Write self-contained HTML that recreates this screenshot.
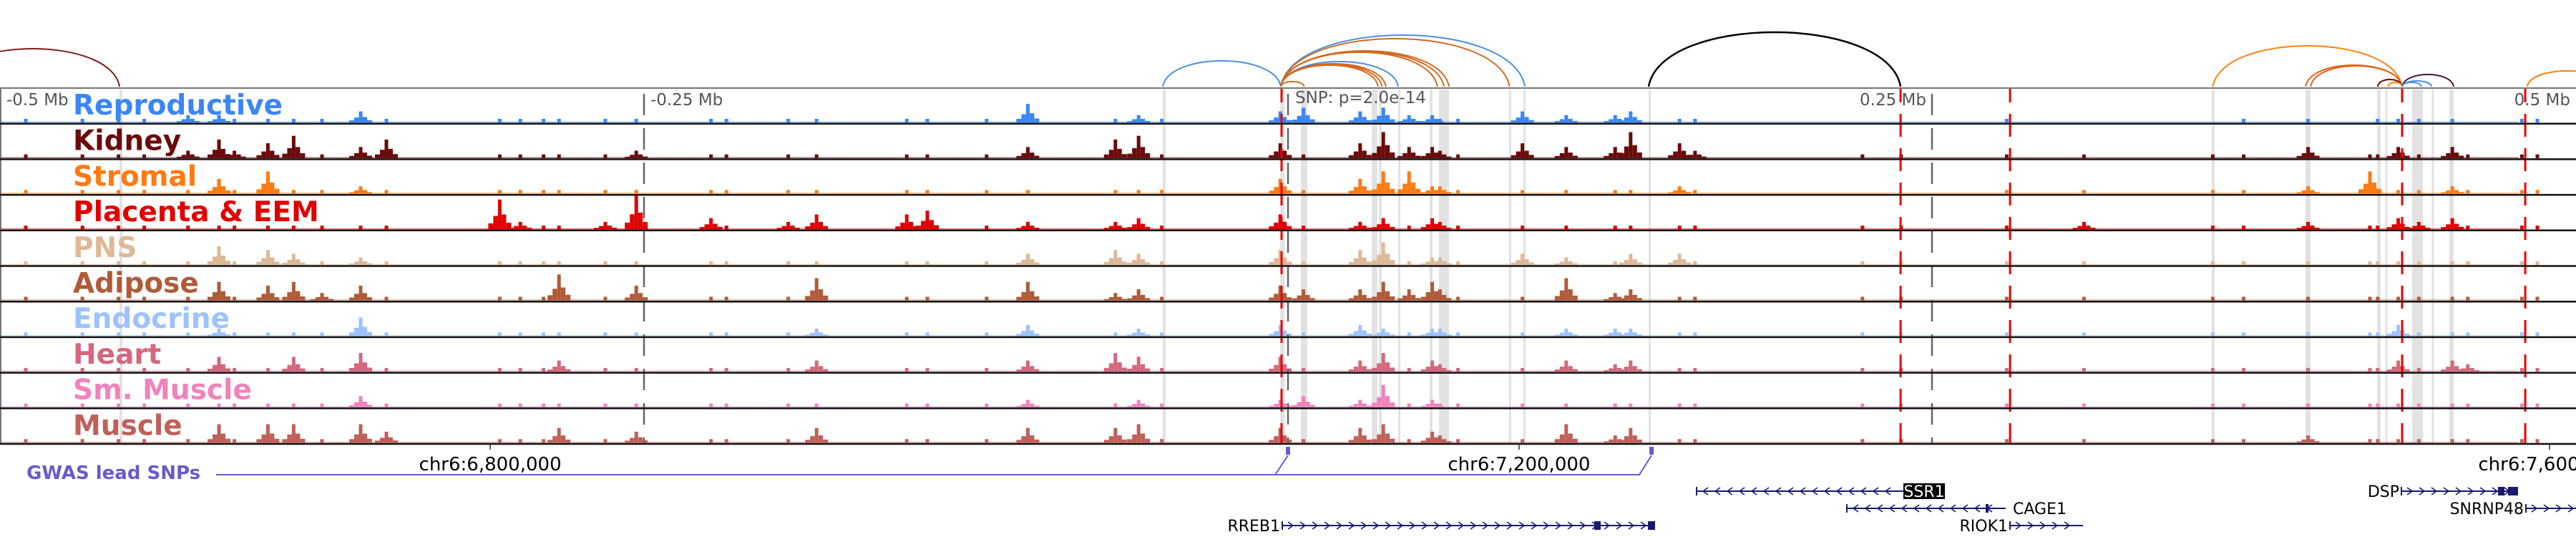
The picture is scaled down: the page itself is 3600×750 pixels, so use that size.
<!DOCTYPE html>
<html><head><meta charset="utf-8"><style>
html,body{margin:0;padding:0;background:#fff;}
svg{display:block;font-family:"DejaVu Sans","Liberation Sans",sans-serif;}
</style></head><body>
<svg id="chart" width="3600" height="750" viewBox="0 0 3600 750" xmlns="http://www.w3.org/2000/svg">
<g id="bands"></g>
<g id="signals"></g>
<g id="vlines"></g>
<g id="frame"></g>
<g id="arcs"></g>
<g id="labels"></g>
<g id="axis"></g>
<g id="gwas"></g>
<g id="genes"></g>
</svg>
<script>
// ---- data ----
const trackNames = ["Reproductive","Kidney","Stromal","Placenta & EEM","PNS","Adipose","Endocrine","Heart","Sm. Muscle","Muscle"];
const trackColors = ["#3b86f5","#6b0a0a","#ff7a12","#e00000","#dfb896","#b05a38","#9cc2ff","#d4687e","#f082bd","#c0605a"];
const peakPos = [-490,-468,-454,-444,-427,-415,-409,-396,-386,-375,-360,-350,-306,-298,-289,-283,-265,-253,-224,-218,-194,-183,-148,-140,-117,-101,-67,-58,-49,-3,6,28,37,47,56,59,66,91,108,127,133,152,158,223,238,279,309,359,371,396,420,423,431,439,452,458,479,485];
const hRepro  = [1,1,1,1,2,2,1,1,1,1,3,1,1,1,1,1,1,1,1,1,1,1,1,1,1,5,1,2,1,3,4,3,4,2,2,1,1,3,2,2,3,1,1,0,0,1,0,0,1,1,0,1,1,1,1,0,1,1];
const hKidney = [1,1,1,1,2,5,2,4,6,1,3,5,1,1,1,1,1,2,1,1,1,1,1,1,1,3,5,6,1,4,1,4,7,3,3,2,1,4,3,3,7,4,2,1,1,1,1,1,1,3,1,1,3,1,3,1,1,1];
const hStromal= [1,1,1,1,1,4,1,6,1,1,2,1,1,1,1,1,1,1,1,1,1,1,1,1,1,1,1,1,1,4,1,4,6,6,2,2,1,1,1,1,1,2,1,0,0,1,1,1,1,2,6,1,1,1,2,1,1,1];
const hPlac   = [1,1,1,1,1,1,1,1,1,1,1,1,8,2,1,1,2,9,3,1,2,4,4,5,1,2,2,3,1,4,1,2,3,1,3,2,1,1,1,1,1,1,1,1,1,1,2,1,1,2,1,1,3,2,3,1,1,1];
const hPNS    = [1,1,1,1,1,5,1,4,3,1,2,1,1,1,1,1,1,1,1,1,1,1,1,1,1,3,4,3,1,4,1,4,6,1,2,2,1,3,2,1,3,3,1,1,1,1,1,1,1,1,1,1,1,1,1,1,1,1];
const hAdipose= [1,1,1,1,1,5,1,4,5,2,4,1,1,1,1,7,1,4,1,1,1,6,1,1,1,5,2,3,1,4,3,3,5,3,5,3,1,1,6,2,3,1,1,1,1,1,1,1,1,1,1,1,1,1,1,1,1,1];
const hEndo   = [1,1,1,1,1,2,1,1,1,1,5,1,1,1,1,1,1,1,1,1,1,2,1,1,1,3,1,2,1,3,1,3,2,1,2,2,1,1,2,2,2,1,1,1,1,1,1,1,1,1,1,1,3,1,1,1,1,1];
const hHeart  = [1,1,1,1,1,4,1,1,4,1,5,1,1,1,1,3,1,1,1,1,1,3,1,1,1,3,5,4,1,4,1,3,5,1,3,2,1,1,3,2,3,1,1,1,1,1,1,1,1,1,1,1,3,1,3,2,1,1];
const hSmM    = [1,1,1,1,1,1,1,1,1,1,3,1,1,1,1,1,1,1,1,1,1,1,1,1,1,2,1,2,1,2,3,2,6,1,2,1,1,1,1,1,1,1,1,1,1,1,1,1,1,1,1,1,1,1,1,1,1,1];
const hMuscle = [1,1,1,1,1,5,1,5,5,1,5,3,1,1,1,4,1,3,1,1,1,4,1,1,1,4,4,5,1,4,1,4,5,1,3,2,1,1,5,2,4,1,1,1,1,1,1,1,1,2,1,1,1,1,1,1,1,1];
const trackHeights = [hRepro,hKidney,hStromal,hPlac,hPNS,hAdipose,hEndo,hHeart,hSmM,hMuscle];
const bandStart = [-453.6,-48.6,-3,5,32.5,35.3,42.8,55,58.6,85.8,91.4,140,358.6,395,422.8,426,436.4,444,450.8];
const bandWidth = [1.1,1.1,1.7,2.5,2.2,1.1,0.8,1.1,3.9,0.8,0.8,0.8,1.1,1.9,1.4,0.8,4.2,0.8,1.7];
const redLines = [-2.5,237.8,280.3,432.5,480.3];
const grayLines = [-250,0,250];
const tickLabels = ["-0.5 Mb","-0.25 Mb","0.25 Mb","0.5 Mb"];
const tickKb = [-500,-250,250,500];
const arcStart = [-521,-48.6,-2.8,-2.8,-2.8,-2.8,-2.8,-2.8,-2.8,-2.8,-2.8,-2.8,140,359,395,397,423,427,432.5,432.5,432.5,481];
const arcEnd   = [-453.6,-2.8,42.8,92,35,36.5,38,58,60.5,62.5,86,6.3,237.8,432.5,432.5,432.5,432.5,432.5,452.5,444,440,512];
const arcHeight= [53,36,35,72,30,31,32,48,49,50,67,7,76,57,30,29,10,6,17,8,6,22];
const arcColors= ["#7b1f1f","#4a90e2","#4a90e2","#4a90e2","#d2691e","#d2691e","#d2691e","#d2691e","#d2691e","#d2691e","#d2691e","#d2691e","#000000","#ff7f0e","#e06010","#e06010","#6b0a0a","#ff7f0e","#4a1030","#4a90e2","#4a90e2","#ff7f0e"];
const chrTicks = ["chr6:6,800,000","chr6:7,200,000","chr6:7,600,000"];
const chrTickKb = [-309.7,89.7,489.7];

// ---- scales ----
const NS="http://www.w3.org/2000/svg";
const xOf = kb => 1800 + kb*3.6;
const TOP=123, TH=49.7, UNIT=5.2;
function mk(tag,attrs,parent){const e=document.createElementNS(NS,tag);for(const k in attrs)e.setAttribute(k,attrs[k]);parent.appendChild(e);return e;}
const gB=document.getElementById('bands'),gS=document.getElementById('signals'),gV=document.getElementById('vlines'),
gF=document.getElementById('frame'),gA=document.getElementById('arcs'),gL=document.getElementById('labels'),
gX=document.getElementById('axis'),gG=document.getElementById('gwas'),gN=document.getElementById('genes');

bandStart.forEach((s,i)=>{
  const r=mk('rect',{x:xOf(s),y:TOP+2,width:Math.max(3,bandWidth[i]*3.6),height:TH*10-2,fill:'#e2e2e2'},gB);
  
  
});

trackHeights.forEach((hs,t)=>{
  const base=TOP+TH*(t+1)-1.5, col=trackColors[t];
  const g=mk('g',{fill:col},gS);
  
  
  mk('rect',{x:0,y:base-1.5,width:3520,height:1.5,'fill-opacity':0.55},g);
  peakPos.forEach((p,i)=>{
    const h=hs[i]*UNIT; if(h<=0) return;
    const x=xOf(p);
    const r=mk('rect',{x:x-2.5,y:base-h,width:5,height:h},g);
    
    
    if(hs[i]>1){
      mk('rect',{x:x-9,y:base-h*0.45,width:6.5,height:h*0.45},g);
      mk('rect',{x:x+2.5,y:base-h*0.5,width:6.5,height:h*0.5},g);
      mk('rect',{x:x-16,y:base-h*0.2,width:7,height:h*0.2},g);
      mk('rect',{x:x+9,y:base-h*0.22,width:7,height:h*0.22},g);
    }
  });
});

grayLines.forEach(k=>{
  const l=mk('line',{x1:xOf(k),x2:xOf(k),y1:TOP,y2:TOP+TH*10,stroke:'#666','stroke-width':2.5,'stroke-dasharray':'30 18','stroke-dashoffset':-8},gV);
  
  
});
redLines.forEach(k=>{
  const l=mk('line',{x1:xOf(k),x2:xOf(k),y1:TOP,y2:TOP+TH*10,stroke:'#ee0000','stroke-width':3,'stroke-dasharray':'32 16','stroke-dashoffset':-36},gV);
  
  
});

mk('line',{x1:0,x2:3600,y1:TOP,y2:TOP,stroke:'#777','stroke-width':2},gF);
mk('line',{x1:1,x2:1,y1:TOP,y2:TOP+TH*10,stroke:'#777','stroke-width':2},gF);
for(let i=1;i<=10;i++){
  const l=mk('line',{x1:0,x2:3600,y1:TOP+TH*i,y2:TOP+TH*i,stroke:'#111','stroke-width':2.5},gF);
  
  
}

const AY=121;
arcStart.forEach((s,i)=>{
  const x1=xOf(s),x2=xOf(arcEnd[i]),h=arcHeight[i]*4/3;
  const p=mk('path',{d:`M${x1},${AY} C${x1+(x2-x1)*0.05},${AY-h} ${x2-(x2-x1)*0.05},${AY-h} ${x2},${AY}`,fill:'none',stroke:arcColors[i],'stroke-width':arcColors[i]=='#000000'?2.5:2},gA);
  
  
});

trackNames.forEach((n,t)=>{
  const tx=mk('text',{x:102,y:TOP+TH*t+37,fill:trackColors[t],'font-size':39,'font-weight':'bold'},gL);
  tx.textContent=n;
  
  
});

tickKb.forEach((k,i)=>{
  const x=xOf(k);
  const anchor = i<2 ? 'start':'end';
  const tx=mk('text',{x: i<2 ? x+9 : x-8, y:147,fill:'#555','font-size':23,'text-anchor':anchor},gX);
  tx.textContent=tickLabels[i];
  
  
});
const snp=mk('text',{x:1810,y:144,fill:'#555','font-size':23},gX);
snp.textContent='SNP: p=2.0e-14';


chrTicks.forEach((c,i)=>{
  const x=xOf(chrTickKb[i]);
  mk('line',{x1:x,x2:x,y1:TOP+TH*10,y2:TOP+TH*10+8,stroke:'#333','stroke-width':1.5},gX);
  const tx=mk('text',{x:x,y:657,fill:'#000','font-size':26,'text-anchor':'middle'},gX);
  tx.textContent=c;
  
  
});

const gw=mk('text',{x:37,y:669,fill:'#6a5acd','font-size':26,'font-weight':'bold'},gG);
gw.textContent='GWAS lead SNPs';


mk('path',{d:'M302,663 L1782,663 L1800,636 M1782,663 L2291,663 L2308,636',fill:'none',stroke:'#6a5acd','stroke-width':2},gG);
[1800,2308].forEach(x=>{
  const r=mk('rect',{x:x-3,y:624,width:6,height:11,fill:'#6a5acd'},gG);
  
  
});

function gene(name,x1,x2,y,dir,labelSide,blocks,boxed){
  const g=mk('g',{},gN);
  
  
  mk('line',{x1:x1,x2:x2,y1:y,y2:y,stroke:'#191970','stroke-width':2},g);
  mk('line',{x1:x1,x2:x1,y1:y-6,y2:y+6,stroke:'#191970','stroke-width':2},g);
  let d='';
  for(let x=x1+12;x<x2-6;x+=17){ d+= dir>0 ? `M${x-4},${y-5} L${x+3},${y} L${x-4},${y+5} ` : `M${x+4},${y-5} L${x-3},${y} L${x+4},${y+5} `; }
  mk('path',{d:d,fill:'none',stroke:'#191970','stroke-width':1.6},g);
  blocks.forEach(b=>mk('rect',{x:b[0],y:y-6,width:b[1],height:12,fill:'#191970'},g));
  if(boxed){
    mk('rect',{x:x2,y:y-11,width:58,height:22,fill:'#000'},g);
    const t=mk('text',{x:x2+29,y:y+8,fill:'#fff','font-size':22,'text-anchor':'middle'},g); t.textContent=name;
  } else {
    const t=mk('text',{x: labelSide<0? x1-3 : x2+10,y:y+8,fill:'#000','font-size':22,'text-anchor':labelSide<0?'end':'start'},g); t.textContent=name;
  }
}
gene('SSR1',2371,2660,686,-1,1,[],true);
gene('CAGE1',2581,2803,710,-1,1,[[2775,4]]);
gene('RREB1',1792,2313,734,1,-1,[[2228,9],[2303,10]]);
gene('RIOK1',2809,2911,734,1,-1,[]);
gene('DSP',3356,3518,686,1,-1,[[3491,9],[3505,14]]);
gene('SNRNP48',3530,3605,710,1,-1,[]);
</script>
</body></html>
